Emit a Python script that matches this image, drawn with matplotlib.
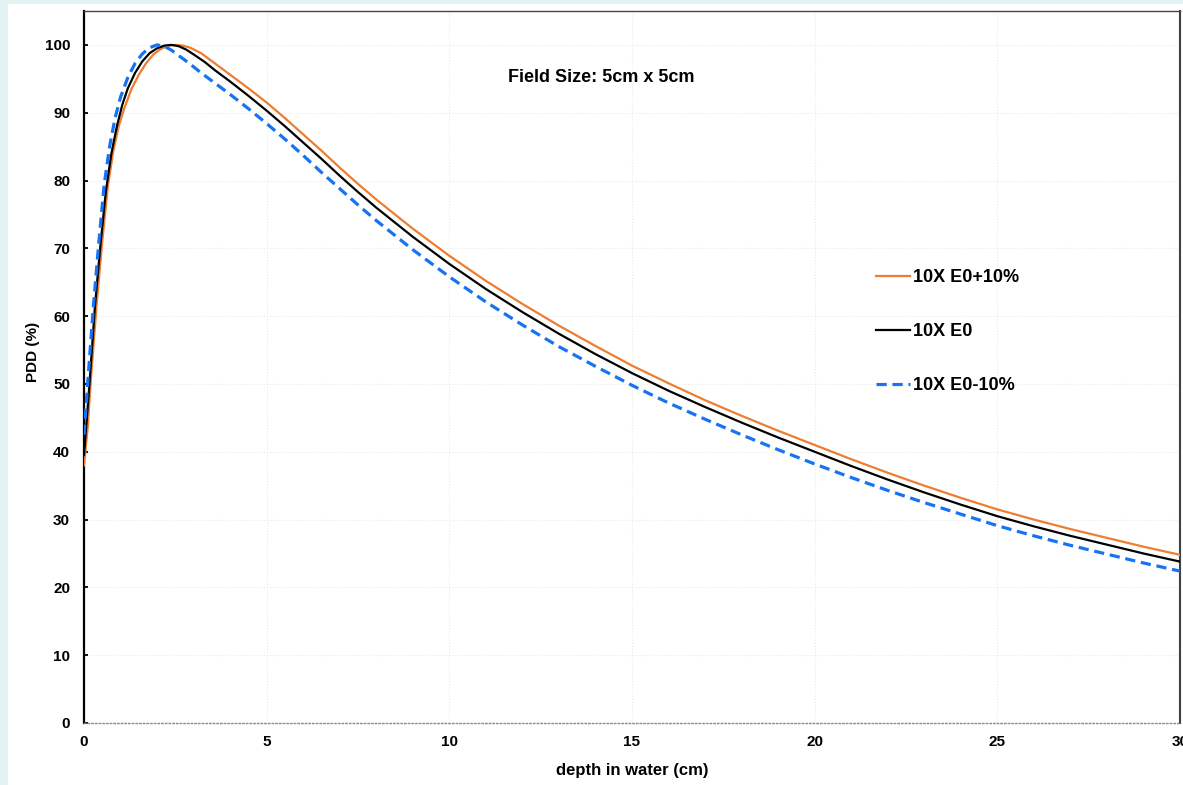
import matplotlib.pyplot as plt
from matplotlib.patches import Rectangle

plt.rcParams['font.family'] = ['Liberation Sans', 'DejaVu Sans']
plt.rcParams['font.weight'] = 'bold'

# depth dose curves, 10 MV, 5x5 field
depth_hi = [0, 0.1, 0.2, 0.35, 0.5, 0.65, 0.8, 0.95, 1.1, 1.3, 1.5, 1.7, 1.9, 2.1, 2.3, 2.5, 2.7, 2.9,
            3.2, 3.6, 4.0, 4.5, 5, 5.5, 6, 6.5, 7, 7.5, 8, 9, 10, 11, 12, 13, 14, 15, 16, 17, 18, 19,
            20, 21, 22, 23, 24, 25, 26, 27, 28, 29, 30]
pdd_hi = [38.0, 43.5, 51.5, 62, 71, 79, 84.3, 88, 90.6, 93.5, 95.6, 97.3, 98.6, 99.4, 99.9, 100, 99.9, 99.6,
          98.8, 97.2, 95.6, 93.6, 91.5, 89.2, 86.8, 84.4, 81.9, 79.5, 77.2, 72.9, 68.9, 65.2, 61.8, 58.6, 55.6,
          52.7, 50.1, 47.6, 45.3, 43.1, 41.0, 38.9, 36.9, 35.0, 33.2, 31.5, 30.0, 28.6, 27.3, 26.0, 24.8]

depth_0 = [0, 0.15, 0.3, 0.45, 0.6, 0.75, 0.9, 1.05, 1.2, 1.4, 1.6, 1.8, 2.0, 2.2, 2.4, 2.6, 2.8, 3.0,
           3.3, 3.6, 4.0, 4.5, 5, 5.5, 6, 6.5, 7, 7.5, 8, 9, 10, 11, 12, 13, 14, 15, 16, 17, 18, 19,
           20, 21, 22, 23, 24, 25, 26, 27, 28, 29, 30]
pdd_0 = [39.5, 50, 61.5, 70.5, 78.5, 84, 88, 91.2, 93.6, 95.9, 97.6, 98.8, 99.5, 99.9, 100, 99.8, 99.3, 98.6,
         97.5, 96.2, 94.6, 92.5, 90.3, 88.0, 85.6, 83.2, 80.7, 78.3, 76.0, 71.7, 67.7, 64.0, 60.6, 57.4, 54.4,
         51.6, 49.0, 46.6, 44.3, 42.1, 40.0, 37.9, 35.9, 34.0, 32.2, 30.5, 29.0, 27.6, 26.3, 25.0, 23.8]

depth_lo = [0, 0.1, 0.25, 0.4, 0.55, 0.7, 0.85, 1.0, 1.2, 1.4, 1.6, 1.8, 2.0, 2.2, 2.4, 2.6, 2.9, 3.2,
            3.6, 4.0, 4.5, 5, 5.5, 6, 6.5, 7, 7.5, 8, 9, 10, 11, 12, 13, 14, 15, 16, 17, 18, 19,
            20, 21, 22, 23, 24, 25, 26, 27, 28, 29, 30]
pdd_lo = [42.5, 50, 61, 70.5, 79.3, 85, 89.2, 92.3, 95.2, 97.3, 98.7, 99.6, 100, 99.8, 99.2, 98.4, 97.2, 95.9,
          94.3, 92.7, 90.6, 88.4, 86.1, 83.7, 81.2, 78.8, 76.4, 74.1, 69.8, 65.8, 62.1, 58.7, 55.5, 52.6,
          49.8, 47.2, 44.8, 42.5, 40.3, 38.2, 36.2, 34.3, 32.5, 30.8, 29.1, 27.6, 26.2, 24.9, 23.6, 22.4]

W, H = 1183, 785
fig = plt.figure(figsize=(W / 100, H / 100), dpi=100, facecolor='#e2f1f1')
fig.patches.append(Rectangle((8 / W, 0), 1, 1 - 4 / H, transform=fig.transFigure,
                             facecolor='white', edgecolor='none', zorder=-1))

ax = fig.add_axes([84 / W, 1 - 723 / H, (1180 - 84) / W, (723 - 11) / H])
ax.set_zorder(1)
ax.set_facecolor('white')

ax.plot(depth_hi, pdd_hi, color='#ED7D31', lw=1.6, label='10X E0+10%', zorder=3)
ax.plot(depth_0, pdd_0, color='black', lw=1.6, label='10X E0', zorder=4)
ax.plot(depth_lo, pdd_lo, color='#1673F3', lw=2.3, linestyle=(0, (3.2, 1.8)), label='10X E0-10%', zorder=5)

ax.set_xlim(0, 30)
ax.set_ylim(0, 105)
ax.set_xticks([0, 5, 10, 15, 20, 25, 30])
ax.set_yticks(range(0, 101, 10))
ax.grid(color='#e9e9e9', linestyle=':', lw=0.8)
ax.set_axisbelow(True)

ax.tick_params(axis='y', direction='in', length=3, width=1.3, pad=10, labelsize=11)
ax.tick_params(axis='x', length=0, pad=9, labelsize=11)

ax.spines['left'].set_color('black')
ax.spines['left'].set_linewidth(1.6)
ax.spines['right'].set_color('#404040')
ax.spines['right'].set_linewidth(1.5)
ax.spines['top'].set_color('#444444')
ax.spines['top'].set_linewidth(1.0)
ax.spines['bottom'].set_color('#8a8a8a')
ax.spines['bottom'].set_linestyle(':')
ax.spines['bottom'].set_linewidth(1.0)

ax.set_xlabel('depth in water (cm)', fontsize=12, fontweight='bold', labelpad=10)
fig.text(33 / W, 1 - 352 / H, 'PDD (%)', rotation=90, fontsize=11, fontweight='bold',
         ha='center', va='center')

ax.text(601 / W, 1 - 78 / H, 'Field Size: 5cm x 5cm', transform=fig.transFigure,
        fontsize=13, fontweight='bold', ha='center', va='center')

ax.legend(loc='upper left', bbox_to_anchor=(876 / W, 1 - 269 / H), bbox_transform=fig.transFigure,
          frameon=False, fontsize=13, handlelength=1.9, handletextpad=0.15,
          labelspacing=2.05, borderpad=0, borderaxespad=0)

fig.savefig('out.png', dpi=100, facecolor=fig.get_facecolor())
